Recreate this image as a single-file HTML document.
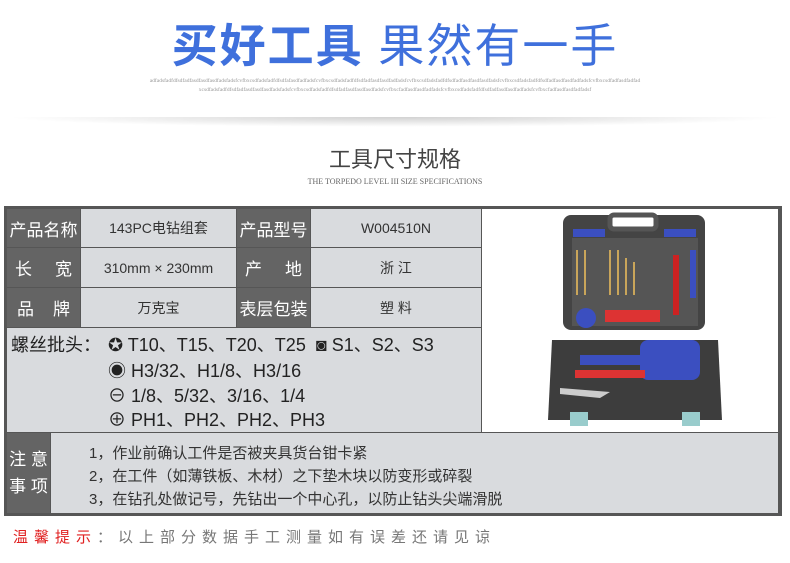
<!DOCTYPE html>
<html><head><meta charset="utf-8"><style>
body{margin:0;width:790px;height:563px;background:#fff;position:relative;overflow:hidden;font-family:"Liberation Sans","Noto Sans CJK SC",sans-serif}
.a{position:absolute}
.lab{position:absolute;background:#646464;color:#fff;font-size:17px;display:flex;align-items:center;justify-content:center;box-sizing:border-box}
.val{position:absolute;background:#d9dbde;color:#333;font-size:14px;display:flex;align-items:center;justify-content:center;box-sizing:border-box}
</style></head><body>
<div class="a" style="left:0;top:18px;width:790px;text-align:center;font-size:46px;color:#3f70dc;letter-spacing:2px;line-height:56px"><b>买好工具</b> 果然有一手</div>
<div class="a" style="left:148px;top:77px;width:494px;text-align:center;font-family:'Liberation Serif',serif;font-size:5.5px;color:#999;line-height:9px;overflow:hidden;white-space:nowrap">adfadsfadfdfsdfadfasdfasdfasdfadsfadsfcvfbxcsdfadsfadfdfsdfafasdfadfadsfcvfbxcsdfadsfadfdfsdfadfasdfasdfadfadsfcvfbxcsdfadsfadfdfsdfadfasdfasdfasdfadsfcvfbxcsdfadsfadfdfsdfadfasdfasdfadfadsfcvfbxcsdfadfasdfadfad<br>xcsdfadsfadfdfsdfadfasdfasdfasdfadsfadsfcvfbxcsdfadsfadfdfsdfadfasdfasdfasdfadsfcvfbxcfadfasdfasdfadfadsfcvfbxcsdfadsfadfdfsdfadfasdfasdfadfadsfcvfbxcfadfasdfasdfadfadsf</div>
<div class="a" style="left:5px;top:117px;width:780px;height:10px;background:radial-gradient(ellipse at 50% 0%,rgba(0,0,0,0.18),rgba(0,0,0,0) 70%)"></div>
<div class="a" style="left:0;top:146px;width:790px;text-align:center;font-size:22px;color:#444;line-height:28px">工具尺寸规格</div>
<div class="a" style="left:0;top:177px;width:790px;text-align:center;font-family:'Liberation Serif',serif;font-size:8px;color:#666">THE TORPEDO LEVEL III SIZE SPECIFICATIONS</div>

<div class="a" style="left:4px;top:206px;width:778px;height:310px;background:#565656"></div>
<div class="lab" style="left:7px;top:209px;width:73px;height:38px">产品名称</div>
<div class="val" style="left:81px;top:209px;width:155px;height:38px">143PC电钻组套</div>
<div class="lab" style="left:237px;top:209px;width:73px;height:38px">产品型号</div>
<div class="val" style="left:311px;top:209px;width:170px;height:38px">W004510N</div>
<div class="lab" style="left:7px;top:248px;width:73px;height:39px;justify-content:space-between;padding:0 8px"><span>长</span><span>宽</span></div>
<div class="val" style="left:81px;top:248px;width:155px;height:39px">310mm × 230mm</div>
<div class="lab" style="left:237px;top:248px;width:73px;height:39px;justify-content:space-between;padding:0 8px"><span>产</span><span>地</span></div>
<div class="val" style="left:311px;top:248px;width:170px;height:39px">浙 江</div>
<div class="lab" style="left:7px;top:288px;width:73px;height:39px;justify-content:space-between;padding:0 10px"><span>品</span><span>牌</span></div>
<div class="val" style="left:81px;top:288px;width:155px;height:39px">万克宝</div>
<div class="lab" style="left:237px;top:288px;width:73px;height:39px">表层包装</div>
<div class="val" style="left:311px;top:288px;width:170px;height:39px">塑 料</div>
<div class="a" style="left:7px;top:328px;width:474px;height:104px;background:#d9dbde;color:#222;font-size:18px;line-height:24px">
<div class="a" style="left:4px;top:5px">螺丝批头：</div>
<div class="a" style="left:101px;top:5px;white-space:nowrap">✪ T10、T15、T20、T25 &nbsp;◙ S1、S2、S3</div>
<div class="a" style="left:101px;top:31px;white-space:nowrap">◉ H3/32、H1/8、H3/16</div>
<div class="a" style="left:101px;top:56px;white-space:nowrap">⊖ 1/8、5/32、3/16、1/4</div>
<div class="a" style="left:101px;top:80px;white-space:nowrap">⊕ PH1、PH2、PH2、PH3</div>
</div>
<div class="a" style="left:482px;top:209px;width:296px;height:223px;background:#fff">
<svg width="296" height="223" viewBox="482 209 296 223">
<rect x="563" y="215" width="142" height="115" rx="8" fill="#444"/>
<rect x="610" y="215" width="46" height="14" rx="4" fill="#fff" stroke="#555" stroke-width="5"/>
<rect x="572" y="238" width="126" height="88" fill="#555"/>
<rect x="573" y="229" width="32" height="8" fill="#3b4fc0"/>
<rect x="664" y="229" width="32" height="8" fill="#3b4fc0"/>
<g stroke="#c9a55a" stroke-width="2"><line x1="577" y1="250" x2="577" y2="295"/><line x1="585" y1="250" x2="585" y2="295"/><line x1="610" y1="250" x2="610" y2="295"/><line x1="618" y1="250" x2="618" y2="295"/><line x1="626" y1="258" x2="626" y2="295"/><line x1="634" y1="262" x2="634" y2="295"/></g>
<rect x="673" y="255" width="6" height="60" fill="#c22"/><rect x="690" y="250" width="6" height="48" fill="#3b4fc0"/>
<circle cx="586" cy="318" r="10" fill="#3b4fc0"/><rect x="605" y="310" width="55" height="12" fill="#d33"/>
<path d="M552 340 H718 L722 420 H548 Z" fill="#3d3d3d"/>
<rect x="640" y="340" width="60" height="40" rx="8" fill="#3b4fc0"/>
<rect x="580" y="355" width="80" height="10" fill="#3b4fc0"/>
<rect x="575" y="370" width="70" height="8" fill="#d33"/>
<path d="M560 388 L610 392 L600 398 L560 394Z" fill="#ccc"/>
<rect x="570" y="412" width="18" height="14" fill="#9cc"/><rect x="682" y="412" width="18" height="14" fill="#9cc"/>
</svg></div>
<div class="lab" style="left:7px;top:433px;width:43px;height:80px;flex-direction:column;line-height:27px"><span>注 意</span><span>事 项</span></div>
<div class="a" style="left:51px;top:433px;width:727px;height:80px;background:#d9dbde;color:#333;font-size:15px;line-height:22px">
<div class="a" style="left:38px;top:10px">1，作业前确认工件是否被夹具货台钳卡紧</div>
<div class="a" style="left:38px;top:33px">2，在工件（如薄铁板、木材）之下垫木块以防变形或碎裂</div>
<div class="a" style="left:38px;top:56px">3，在钻孔处做记号，先钻出一个中心孔，以防止钻头尖端滑脱</div>
</div>
<div class="a" style="left:13px;top:526px;font-size:15px;letter-spacing:6px;color:#777;white-space:nowrap"><span style="color:#e02020">温馨提示</span>：以上部分数据手工测量如有误差还请见谅</div>
</body></html>
